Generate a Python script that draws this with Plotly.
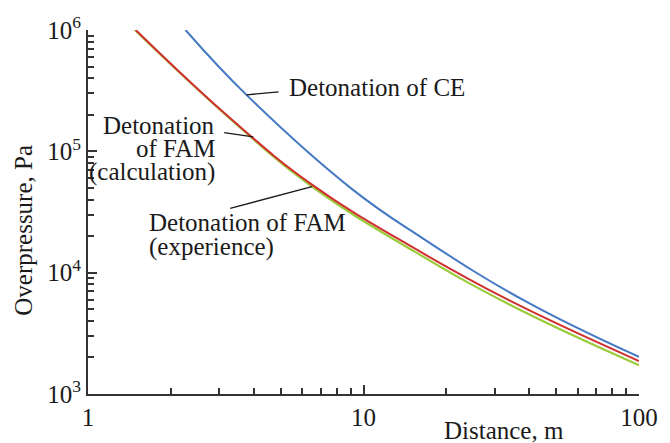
import numpy as np
import plotly.graph_objects as go

# Overpressure vs. distance, log-log
distance_ce = [2.26, 3.76, 9.04, 16.4, 38.1, 100.0]
pressure_ce = [1.0e6, 2.92e5, 4.93e4, 1.92e4, 5.93e3, 2.02e3]

distance_calc = [1.49, 3.27, 6.5, 15.5, 33.7, 100.0]
pressure_calc = [1.0e6, 1.89e5, 5.32e4, 1.56e4, 5.93e3, 1.87e3]

distance_exp = [1.48, 3.27, 6.5, 15.5, 33.7, 100.0]
pressure_exp = [1.0e6, 1.87e5, 5.13e4, 1.47e4, 5.50e3, 1.73e3]

x_ticks = [1, 10, 100]
x_ticktext = ["1", "10", "100"]
y_ticks = [1e3, 1e4, 1e5, 1e6]
y_ticktext = ["10<sup>3</sup>", "10<sup>4</sup>", "10<sup>5</sup>", "10<sup>6</sup>"]

X_RANGE = [0, 2]
Y_RANGE = [3, 6]

FONT = "Liberation Serif"
SIZE = 25
INK = "#1a1a1a"
AXIS = "#333333"

fig = go.Figure()
fig.add_trace(go.Scatter(x=distance_exp, y=pressure_exp, mode="lines",
                         line=dict(color="#9acb3a", width=2.2, shape="spline", smoothing=1.2),
                         name="Detonation of FAM (experience)"))
fig.add_trace(go.Scatter(x=distance_calc, y=pressure_calc, mode="lines",
                         line=dict(color="#cf3030", width=2, shape="spline", smoothing=1.2),
                         name="Detonation of FAM (calculation)"))
fig.add_trace(go.Scatter(x=distance_ce, y=pressure_ce, mode="lines",
                         line=dict(color="#4479c4", width=2, shape="spline", smoothing=1.2),
                         name="Detonation of CE"))


def to_paper(x, y):
    px = (np.log10(x) - X_RANGE[0]) / (X_RANGE[1] - X_RANGE[0])
    py = (np.log10(y) - Y_RANGE[0]) / (Y_RANGE[1] - Y_RANGE[0])
    return float(px), float(py)


def on_curve(xs, ys, x):
    ly = np.interp(np.log10(x), np.log10(xs), np.log10(ys))
    return to_paper(x, 10 ** ly)


# leader lines: from a point on a curve to its label
leaders = [
    (on_curve(distance_ce, pressure_ce, 3.76), (0.346, 0.830)),
    (on_curve(distance_calc, pressure_calc, 3.98), (0.247, 0.718)),
    (on_curve(distance_exp, pressure_exp, 6.5), (0.258, 0.510)),
]
for (x0, y0), (x1, y1) in leaders:
    fig.add_shape(type="line", xref="paper", yref="paper", x0=x0, y0=y0, x1=x1, y1=y1,
                  line=dict(color=INK, width=1.3))

labels = [
    ("Detonation of CE", 0.362, 0.841, "left"),
    ("Detonation", 0.2345, 0.737, "right"),
    ("of FAM", 0.2345, 0.674, "right"),
    ("(calculation)", 0.2345, 0.609, "right"),
    ("Detonation of FAM", 0.107, 0.471, "left"),
    ("(experience)", 0.107, 0.405, "left"),
]
for text, x, y, anchor in labels:
    fig.add_annotation(text=text, x=x, y=y, xref="paper", yref="paper",
                       xanchor=anchor, yanchor="middle", showarrow=False,
                       font=dict(family=FONT, size=SIZE, color=INK))

fig.add_annotation(text="Distance, m", x=0.755, y=-0.099, xref="paper", yref="paper",
                   xanchor="center", yanchor="middle", showarrow=False,
                   font=dict(family=FONT, size=SIZE, color=INK))
fig.add_annotation(text="Overpressure, Pa", x=-0.117, y=0.45, xref="paper", yref="paper",
                   xanchor="center", yanchor="middle", textangle=-90, showarrow=False,
                   font=dict(family=FONT, size=SIZE, color=INK))

axis_common = dict(
    type="log", showgrid=False, zeroline=False, showline=True,
    linecolor=AXIS, linewidth=2, ticks="inside", ticklen=9, tickwidth=1.5,
    tickcolor=AXIS, tickfont=dict(family=FONT, size=SIZE, color=INK),
)

minor_x = [m * d for d in (1, 10) for m in range(2, 10)]
minor_y = [m * d for d in (1e3, 1e4, 1e5) for m in range(2, 10)]

fig.update_xaxes(range=X_RANGE, tickvals=x_ticks, ticktext=x_ticktext,
                 minor=dict(tickvals=minor_x, ticks="inside", ticklen=6, tickwidth=1.5,
                            tickcolor=AXIS, showgrid=False),
                 **axis_common)
fig.update_yaxes(range=Y_RANGE, tickvals=y_ticks, ticktext=y_ticktext,
                 minor=dict(tickvals=minor_y, ticks="inside", ticklen=6, tickwidth=1.5,
                            tickcolor=AXIS, showgrid=False),
                 **axis_common)

fig.update_layout(
    width=670, height=443,
    margin=dict(l=88, r=19, t=29, b=49),
    plot_bgcolor="white", paper_bgcolor="white",
    showlegend=False,
    font=dict(family=FONT, size=SIZE, color=INK),
)

fig.write_html("out.html")
